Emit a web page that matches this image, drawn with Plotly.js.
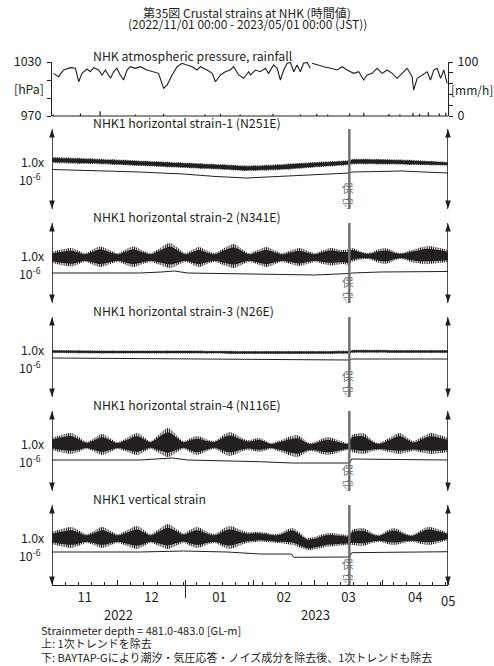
<!DOCTYPE html>
<html><head><meta charset="utf-8">
<script src="https://cdn.plot.ly/plotly-3.0.1.min.js"></script>
<style>html,body{margin:0;padding:0;background:#fff}#c{width:494px;height:666px}</style>
</head><body><div id="c"></div>
<script>
// ================= DATA (day offsets from 2022-11-01 00:00 JST) =================
const startDate = '2022-11-01';
const endDate = '2023-05-01';
const titleLines = ['第35図 Crustal strains at NHK (時間値)', '(2022/11/01 00:00 - 2023/05/01 00:00 (JST))'];
const pressTitle = 'NHK atmospheric pressure, rainfall';
const panelTitles = ['NHK1 horizontal strain-1 (N251E)','NHK1 horizontal strain-2 (N341E)','NHK1 horizontal strain-3 (N26E)','NHK1 horizontal strain-4 (N116E)','NHK1 vertical strain'];
const footerLines = ['Strainmeter depth = 481.0-483.0 [GL-m]','上: 1次トレンドを除去','下: BAYTAP-Gにより潮汐・気圧応答・ノイズ成分を除去後、1次トレンドも除去'];
const yearLabels = ['2022','2023'];
const yearLabelDays = [30.4, 120.4];
const endLabel = '05';
const yearBoundaryDay = 61;
const maintDay = 135.9;
const maintLabel = '保<br>守';
const scaleLabel = ['1.0x', '10<sup>-6</sup>'];
const scaleRange = 1.0;   // arrow length = 1.0 x 10^-6
const pressTicks = [970, 1030], pressMinor = [990, 1010];
const rainTicks = [0, 100], rainMinor = [20, 40, 60, 80];

// atmospheric pressure [hPa]
const pressDays = [0.7,3.0,5.3,8.4,10.7,12.2,13.7,16.0,17.5,19.0,21.3,22.9,24.4,26.7,28.2,29.7,31.2,32.7,34.3,35.8,38.1,40.4,43.4,46.5,48.7,51.0,52.6,54.9,57.2,59.4,61.7,64.0,66.3,67.8,70.9,73.2,74.7,77.0,79.2,81.5,83.0,85.3,87.6,89.9,90.7,93.0,95.2,97.5,99.0,101.3,102.9,104.4,105.9,107.5,109.0,110.5,112.0,113.5,115.0,116.6,118.1,118.5,118.9,121.2,124.2,127.3,130.3,132.6,134.9,137.9,140.2,142.5,144.0,146.3,148.6,150.9,153.2,155.5,157.7,160.0,162.3,164.6,165.3,166.9,169.2,171.5,173.0,174.5,176.0,177.6,179.1,180.6];
const pressHPa = [1017.4,1013.7,1021.1,1023.7,1023.0,1008.1,1017.4,1022.2,1019.2,1023.7,1021.1,1015.6,1021.1,1011.9,1019.2,1023.0,1015.6,1010.0,1021.1,1024.8,1023.0,1024.8,1021.1,1019.2,1017.4,1000.8,1004.4,1015.6,1024.8,1028.6,1026.7,1024.8,1021.1,1024.8,1021.1,1017.4,1008.1,1015.6,1019.2,1021.1,1024.8,1015.6,1011.9,1019.2,1015.6,1021.1,1019.2,1023.0,1017.4,1026.7,1023.0,1010.0,1021.1,1028.6,1029.5,1019.2,1026.7,1019.2,1028.6,1029.5,1023.0,null,1028.6,1026.7,1024.8,1023.0,1021.1,1024.8,1021.1,1017.4,1019.2,1010.0,1015.6,1017.4,1023.0,1017.4,1021.1,1017.4,1011.9,1017.4,1023.0,1013.7,998.9,1011.9,1015.6,1019.2,1010.0,1021.1,1023.0,1011.9,1021.1,1006.3];

// rainfall [mm/h]
const rainDays = [0.5,13,22,38,51,70,77,86,101,113.5,121,126,136,142.5,154,159,165,168,172,177,180];
const rainMM = [3,5,9,3,4,3,4,3,4,3,4,3,5,6,4,3,6,4,7,5,6];

// strain panels, x1e-6 (upper: detrended hourly values drawn as envelope; lower: residual)
const p1EnvDays = [0,15,30,45,60,75,89,105,120,136,137,150,165,181];
const p1Upper = [0.15,0.1375,0.119,0.1,0.081,0.0625,0.044,0.0625,0.0875,0.1125,0.125,0.125,0.1125,0.0875];
const p1Lower = [0.075,0.0625,0.05,0.031,0.0125,-0.006,-0.025,-0.0125,0.019,0.05,0.056,0.056,0.05,0.044];
const p1ResDays = [0,20,40,60,75,89,100,120,136,137,150,160,170,181];
const p1Res = [-0.006,-0.019,-0.0375,-0.0625,-0.094,-0.1125,-0.1,-0.075,-0.05,-0.0375,-0.031,-0.025,-0.0375,-0.05];

const p2EnvDays = [0,9,15,22,30,37,45,54,61,67,74,83,90,98,105,113,120,127,133,136,137,144,152,159,166,172,181];
const p2Upper = [0.141,0.1875,0.125,0.206,0.125,0.206,0.125,0.25,0.125,0.2,0.125,0.2375,0.125,0.2,0.125,0.1875,0.125,0.1875,0.1625,0.175,0.1875,0.125,0.1875,0.125,0.175,0.2125,0.1625];
const p2Lower = [0,-0.044,0.0125,-0.05,0.0125,-0.05,0.0125,-0.0625,0.0125,-0.05,0.0125,-0.0625,0.0125,-0.05,0.0125,-0.0375,0.0125,-0.031,-0.0125,-0.025,0.0125,0.05,-0.0125,0.05,0,-0.0125,0.0125];
const p2ResDays = [0,40,50,56,62,100,120,136,137,150,165,181];
const p2Res = [-0.125,-0.125,-0.1125,-0.1,-0.125,-0.1375,-0.15,-0.131,-0.125,-0.1125,-0.1125,-0.106];

const p3EnvDays = [0,30,60,90,120,136,137,160,181];
const p3Upper = [0.0875,0.081,0.081,0.075,0.075,0.081,0.0875,0.0875,0.0875];
const p3Lower = [0.05,0.044,0.044,0.0375,0.0375,0.044,0.05,0.05,0.05];
const p3ResDays = [0,60,120,136,137,181];
const p3Res = [-0.0125,-0.025,-0.0375,-0.0375,-0.025,-0.025];

const p4EnvDays = [0,9,16,23,30,39,45,53,60,66,74,81,89,95,100,112,118,126,135,136,137,142,149,159,165,173,181];
const p4Upper = [0.1625,0.225,0.116,0.2125,0.1125,0.225,0.125,0.2875,0.125,0.1875,0.125,0.2375,0.1375,0.1625,0.1,0.2,0.1,0.175,0.1,0.125,0.2,0.225,0.1,0.225,0.125,0.225,0.1625];
const p4Lower = [0.0125,-0.0375,0.025,-0.05,0.025,-0.05,0.025,-0.075,0.025,-0.05,0.025,-0.0625,0.0125,-0.0125,0.025,-0.075,0,-0.05,0.0125,0,-0.0125,-0.0375,0.0125,-0.0375,0,-0.0375,-0.0125];
const p4ResDays = [0,40,55,62,95,110,136,137,181];
const p4Res = [-0.1125,-0.1125,-0.0875,-0.1125,-0.134,-0.15,-0.15,-0.1,-0.1125];

const p5EnvDays = [0,9,16,23,30,39,45,53,60,66,74,81,89,95,103,110,117,126,135,136,137,142,149,156,164,172,181];
const p5Upper = [0.1625,0.225,0.1375,0.225,0.1375,0.2375,0.1375,0.2625,0.15,0.225,0.1375,0.2375,0.1625,0.166,0.1375,0.2125,0.0875,0.15,0.125,0.125,0.1875,0.2125,0.125,0.2125,0.125,0.229,0.15];
const p5Lower = [0.0125,-0.0375,0.025,-0.0375,0.025,-0.05,0.025,-0.05,0.025,-0.0375,0.025,-0.05,0.025,0.041,0.025,0,-0.0625,-0.021,0,0,0,-0.0125,0.041,0,0.041,0,0.0625];
const p5ResDays = [0,40,60,80,95,109.5,110.5,125,136,137,160,181];
const p5Res = [-0.0875,-0.0875,-0.075,-0.0875,-0.1125,-0.1125,-0.154,-0.15,-0.15,-0.096,-0.0875,-0.084];

// ================= RENDERING =================
const FONT = '"Noto Sans CJK JP", "Noto Sans", sans-serif';
const INK = '#231f20';
const GREY = '#6d6e71';
const T0 = Date.UTC(2022, 10, 1);
function d2s(d) { return new Date(T0 + d * 86400000).toISOString().slice(0, 19).replace('T', ' '); }
const dates = a => a.map(d2s);

const W = 494, H = 666, ML = 52, MR = 46, MT = 62, MB = 81;
const PH = H - MT - MB, PW = W - ML - MR;
const py = y => (H - MB - y) / PH;       // pixel row -> paper y
const px = x => (x - ML) / PW;           // pixel column -> paper x
const panelTop = k => 129 + 94 * k, panelLen = 80;
const half = scaleRange / 2;

const panels = [
  {env: p1EnvDays, up: p1Upper, lo: p1Lower, rd: p1ResDays, rv: p1Res},
  {env: p2EnvDays, up: p2Upper, lo: p2Lower, rd: p2ResDays, rv: p2Res},
  {env: p3EnvDays, up: p3Upper, lo: p3Lower, rd: p3ResDays, rv: p3Res},
  {env: p4EnvDays, up: p4Upper, lo: p4Lower, rd: p4ResDays, rv: p4Res},
  {env: p5EnvDays, up: p5Upper, lo: p5Lower, rd: p5ResDays, rv: p5Res}
];

const traces = [];
// rainfall drawn as hourly stems rising from the zero line
const rx = [], ry = [];
rainDays.forEach((d, i) => { rx.push(d2s(d), d2s(d), null); ry.push(0, rainMM[i], null); });
traces.push({type: 'scatter', mode: 'lines', x: rx, y: ry, xaxis: 'x', yaxis: 'y7',
  line: {color: INK, width: 1.2}, connectgaps: false, hoverinfo: 'skip'});
traces.push({type: 'scatter', mode: 'lines', x: dates(pressDays), y: pressHPa, xaxis: 'x', yaxis: 'y',
  line: {color: INK, width: 1.1}, connectgaps: false, hoverinfo: 'skip'});

const sp = {width: 0, shape: 'spline', smoothing: 0.7};
panels.forEach((p, k) => {
  const ya = 'y' + (k + 2);
  const xs = dates(p.env);
  traces.push({type: 'scatter', mode: 'lines', x: dates(p.rd), y: p.rv, xaxis: 'x', yaxis: ya,
    line: {color: INK, width: 1}, hoverinfo: 'skip'});
  // hatched outer envelope of the hourly series
  traces.push({type: 'scatter', mode: 'lines', x: xs, y: p.lo, xaxis: 'x', yaxis: ya, line: sp, hoverinfo: 'skip'});
  traces.push({type: 'scatter', mode: 'lines', x: xs, y: p.up, xaxis: 'x', yaxis: ya, line: sp,
    fill: 'tonexty', fillcolor: 'rgba(0,0,0,0)',
    fillpattern: {shape: '|', size: 2.2, solidity: 0.5, fgcolor: INK, bgcolor: 'rgba(0,0,0,0)'}, hoverinfo: 'skip'});
  // solid core of the same envelope (display texture only)
  const cu = p.up.map((u, i) => p.lo[i] + (u - p.lo[i]) * 0.85);
  const cl = p.up.map((u, i) => p.lo[i] + (u - p.lo[i]) * 0.15);
  traces.push({type: 'scatter', mode: 'lines', x: xs, y: cl, xaxis: 'x', yaxis: ya, line: sp, hoverinfo: 'skip'});
  traces.push({type: 'scatter', mode: 'lines', x: xs, y: cu, xaxis: 'x', yaxis: ya, line: sp,
    fill: 'tonexty', fillcolor: INK, hoverinfo: 'skip'});
  // double-headed scale arrows at both ends (length = scaleRange)
  [startDate, endDate].forEach(xd => {
    traces.push({type: 'scatter', mode: 'lines+markers', x: [xd, xd], y: [half, -half], xaxis: 'x', yaxis: ya,
      cliponaxis: false, line: {color: INK, width: 1.6},
      marker: {symbol: 'arrow', size: 9, angle: [0, 180], color: INK, line: {width: 0}}, hoverinfo: 'skip'});
  });
});

const layout = {
  width: W, height: H, showlegend: false,
  paper_bgcolor: '#fff', plot_bgcolor: 'rgba(0,0,0,0)',
  margin: {l: ML, r: MR, t: MT, b: MB, pad: 0},
  font: {family: FONT, size: 12, color: INK},
  xaxis: {
    type: 'date', range: [startDate, endDate], anchor: 'y6',
    showline: true, linecolor: INK, linewidth: 1, showgrid: false, zeroline: false,
    ticks: 'inside', ticklen: 5, tickwidth: 1, tickcolor: INK,
    tick0: startDate, dtick: 'M1', ticklabelmode: 'period', tickformat: '%m',
    tickfont: {size: 13, family: FONT, color: INK},
    minor: {ticks: 'inside', ticklen: 3, tickwidth: 1, tickcolor: INK, dtick: 6 * 86400000, tick0: startDate, showgrid: false}
  },
  yaxis: {
    domain: [py(116), py(62)], anchor: 'x', range: [970, 1030],
    tickmode: 'array', tickvals: pressTicks,
    ticks: 'outside', ticklen: 4, tickcolor: INK, showline: true, linecolor: INK, linewidth: 1,
    ticklabelstandoff: 3,
    minor: {tickmode: 'array', tickvals: pressMinor, ticks: 'outside', ticklen: 4, tickcolor: INK, showgrid: false},
    showgrid: false, zeroline: false, tickfont: {size: 12.5, family: FONT, color: INK}
  },
  yaxis7: {
    overlaying: 'y', side: 'right', anchor: 'x', range: [0, 100],
    tickmode: 'array', tickvals: rainTicks,
    ticks: 'outside', ticklen: 4, tickcolor: INK, showline: true, linecolor: INK, linewidth: 1,
    ticklabelstandoff: 2,
    minor: {tickmode: 'array', tickvals: rainMinor, ticks: 'outside', ticklen: 4, tickcolor: INK, showgrid: false},
    showgrid: false, zeroline: false, tickfont: {size: 12.5, family: FONT, color: INK}
  },
  annotations: [], shapes: []
};

panels.forEach((p, k) => {
  const T = panelTop(k), B = T + panelLen;
  layout['yaxis' + (k + 2)] = {domain: [py(B), py(T)], range: [-half, half], visible: false, fixedrange: true};
});

const A = layout.annotations, S = layout.shapes;
const txt = (x, y, text, anchor, size, extra) => Object.assign({xref: 'paper', yref: 'paper', x: px(x), y: py(y), text: text,
  showarrow: false, xanchor: anchor, yanchor: 'middle', font: {size: size}}, extra || {});
// titles
A.push(txt(247, 12.5, titleLines[0], 'center', 12));
A.push(txt(247, 24, titleLines[1], 'center', 12));
A.push(txt(91, 56, pressTitle, 'left', 12.3));
A.push(txt(45.5, 89, '[hPa]', 'right', 12.3));
A.push(txt(448.5, 89, '[mm/h]', 'left', 12));
// zero line of the rainfall axis
S.push({type: 'line', xref: 'paper', x0: 0, x1: 1, yref: 'paper', y0: py(116), y1: py(116), line: {color: INK, width: 1}});

panels.forEach((p, k) => {
  const T = panelTop(k), C = T + panelLen / 2;
  const ya = 'y' + (k + 2);
  A.push(txt(91, T - 6, panelTitles[k], 'left', 12.3));
  A.push(txt(46, C - 7, scaleLabel[0], 'right', 12.3));
  A.push(txt(43, C + 10.5, scaleLabel[1], 'right', 12.3));
  S.push({type: 'line', xref: 'x', x0: d2s(maintDay), x1: d2s(maintDay), yref: ya, y0: -half, y1: half,
    line: {color: GREY, width: 2.4}});
  A.push({xref: 'x', yref: 'paper', x: d2s(maintDay), y: py(T + 66.5), text: maintLabel, showarrow: false,
    xanchor: 'center', yanchor: 'middle', xshift: -1, font: {size: 11.5, color: GREY}});
});

// x-axis extras
A.push({xref: 'x', yref: 'paper', x: endDate, y: py(600), text: endLabel, showarrow: false, xanchor: 'center', yanchor: 'middle', font: {size: 13}});
yearLabels.forEach((t, i) => A.push({xref: 'x', yref: 'paper', x: d2s(yearLabelDays[i]), y: py(614), text: t, showarrow: false, xanchor: 'center', yanchor: 'middle', font: {size: 13}}));
S.push({type: 'line', xref: 'x', x0: d2s(yearBoundaryDay), x1: d2s(yearBoundaryDay), yref: 'paper', y0: 0, y1: py(598), line: {color: INK, width: 1}});
footerLines.forEach((t, i) => A.push(txt(38.5, 630 + 13.3 * i, t, 'left', 11)));

Plotly.newPlot('c', traces, layout, {staticPlot: true, displayModeBar: false});
</script></body></html>
